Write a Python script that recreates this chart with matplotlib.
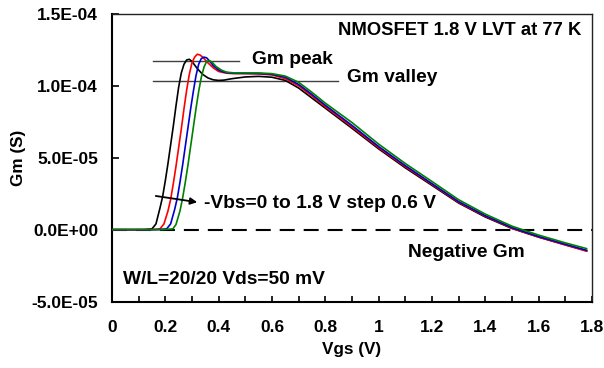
import matplotlib
matplotlib.use("Agg")
import matplotlib.pyplot as plt
from matplotlib.ticker import FixedLocator, MultipleLocator

plt.rcParams['font.family'] = ['Liberation Sans', 'DejaVu Sans']
plt.rcParams['font.weight'] = 'bold'

# Gm in units of 1e-5 S
v_black = [0, 0.12, 0.15, 0.165, 0.18, 0.19, 0.20, 0.21, 0.22, 0.23, 0.24, 0.25, 0.26, 0.27, 0.28, 0.29,
           0.30, 0.32, 0.34, 0.36, 0.38, 0.40, 0.42, 0.45, 0.5, 0.55, 0.6, 0.65, 0.7, 0.75, 0.8, 0.9, 1.0,
           1.1, 1.2, 1.3, 1.4, 1.5, 1.6, 1.7, 1.78]
gm_black = [0, 0, 0.05, 0.4, 1.5, 2.3, 3.4, 4.6, 5.9, 7.2, 8.6, 9.9, 10.9, 11.5, 11.8, 11.85,
            11.7, 11.2, 10.8, 10.55, 10.42, 10.38, 10.4, 10.5, 10.62, 10.66, 10.6, 10.38, 9.85, 9.15, 8.45, 7.05, 5.62,
            4.3, 3.08, 1.85, 0.88, 0.08, -0.52, -1.05, -1.47]

v_red = [0, 0.15, 0.18, 0.195, 0.21, 0.22, 0.23, 0.24, 0.25, 0.26, 0.27, 0.28, 0.29, 0.30, 0.31, 0.32,
         0.33, 0.34, 0.36, 0.38, 0.40, 0.43, 0.46, 0.5, 0.55, 0.6, 0.65, 0.7, 0.75, 0.8, 0.9, 1.0,
         1.1, 1.2, 1.3, 1.4, 1.5, 1.6, 1.7, 1.78]
gm_red = [0, 0, 0.05, 0.4, 1.3, 2.1, 3.2, 4.4, 5.7, 7.0, 8.4, 9.7, 10.8, 11.6, 12.0, 12.2,
          12.15, 12.0, 11.6, 11.25, 11.0, 10.88, 10.85, 10.85, 10.83, 10.76, 10.5, 10.0, 9.3, 8.55, 7.15, 5.7,
          4.38, 3.15, 1.9, 0.93, 0.1, -0.52, -1.07, -1.5]

v_blue = [0, 0.17, 0.205, 0.22, 0.235, 0.245, 0.255, 0.265, 0.275, 0.285, 0.295, 0.305, 0.315, 0.325,
          0.335, 0.345, 0.355, 0.365, 0.38, 0.40, 0.42, 0.45, 0.5, 0.55, 0.6, 0.65, 0.7, 0.75, 0.8, 0.9, 1.0,
          1.1, 1.2, 1.3, 1.4, 1.5, 1.6, 1.7, 1.78]
gm_blue = [0, 0, 0.05, 0.4, 1.4, 2.2, 3.3, 4.5, 5.8, 7.1, 8.4, 9.6, 10.7, 11.5,
           11.9, 12.0, 11.95, 11.75, 11.4, 11.1, 10.95, 10.88, 10.87, 10.86, 10.8, 10.6, 10.1, 9.4, 8.65, 7.25, 5.78,
           4.45, 3.2, 1.95, 0.97, 0.14, -0.48, -1.02, -1.44]

v_green = [0, 0.19, 0.228, 0.24, 0.255, 0.265, 0.275, 0.285, 0.295, 0.305, 0.315, 0.325, 0.335, 0.345,
           0.355, 0.365, 0.375, 0.39, 0.41, 0.43, 0.46, 0.5, 0.55, 0.6, 0.65, 0.7, 0.75, 0.8, 0.9, 1.0,
           1.1, 1.2, 1.3, 1.4, 1.5, 1.6, 1.7, 1.78]
gm_green = [0, 0, 0.05, 0.35, 1.3, 2.2, 3.3, 4.5, 5.8, 7.1, 8.4, 9.6, 10.6, 11.3,
            11.7, 11.75, 11.65, 11.35, 11.1, 10.95, 10.9, 10.9, 10.9, 10.85, 10.68, 10.25, 9.55, 8.8, 7.45, 5.95,
            4.6, 3.35, 2.08, 1.08, 0.24, -0.38, -0.92, -1.32]

series = [(v_black, gm_black, 'black'), (v_red, gm_red, '#ff0000'),
          (v_blue, gm_blue, '#0000cc'), (v_green, gm_green, '#008000')]

y_ticks = [-5e-5, 0, 5e-5, 1e-4, 1.5e-4]
y_tick_labels = ['-5.0E-05', '0.0E+00', '5.0E-05', '1.0E-04', '1.5E-04']
x_ticks = [0, 0.2, 0.4, 0.6, 0.8, 1.0, 1.2, 1.4, 1.6, 1.8]
x_tick_labels = ['0', '0.2', '0.4', '0.6', '0.8', '1', '1.2', '1.4', '1.6', '1.8']

peak_line_x = [0.154, 0.476]
peak_line_y = 1.171e-4
valley_line_x = [0.154, 0.847]
valley_line_y = 1.033e-4

fig = plt.figure(figsize=(6.04, 3.68), dpi=100)
ax = fig.add_axes([0.1854, 0.1807, 0.7946, 0.7813])

ax.plot([0, 1.8], [0, 0], color='black', lw=1.5, dashes=(7.2, 4.3), zorder=1)
for v, g, c in series:
    ax.plot(v, [x * 1e-5 for x in g], color=c, lw=1.2, zorder=3)

ax.plot(peak_line_x, [peak_line_y] * 2, color='#404040', lw=1.0, zorder=2)
ax.plot(valley_line_x, [valley_line_y] * 2, color='#404040', lw=1.0, zorder=2)

ax.set_xlim(0, 1.8)
ax.set_ylim(-5e-5, 1.5e-4)
ax.xaxis.set_major_locator(FixedLocator(x_ticks))
ax.set_xticklabels(x_tick_labels)
ax.xaxis.set_minor_locator(MultipleLocator(0.1))
ax.yaxis.set_major_locator(FixedLocator(y_ticks))
ax.set_yticklabels(y_tick_labels)

ax.tick_params(axis='both', which='both', direction='in', labelsize=12.5, width=1.2, length=4)
ax.tick_params(axis='x', which='major', pad=13)
ax.tick_params(axis='y', which='major', pad=10, length=5)
for lab in ax.get_xticklabels() + ax.get_yticklabels():
    lab.set_fontweight('bold')

for s in ['left', 'bottom']:
    ax.spines[s].set_linewidth(1.5)
    ax.spines[s].set_color('black')
for s in ['top', 'right']:
    ax.spines[s].set_linewidth(1.0)
    ax.spines[s].set_color('#222222')

ax.set_xlabel('Vgs (V)', fontsize=12.3, fontweight='bold', labelpad=5)
ax.set_ylabel('Gm (S)', fontsize=12.3, fontweight='bold', labelpad=4)

fs = 13.8
ax.text(0.977, 0.941, 'NMOSFET 1.8 V LVT at 77 K', transform=ax.transAxes, ha='right', va='center',
        fontsize=13.3, fontweight='bold')
ax.text(0.525, 1.185e-4, 'Gm peak', ha='left', va='center', fontsize=fs, fontweight='bold')
ax.text(0.881, 1.059e-4, 'Gm valley', ha='left', va='center', fontsize=fs, fontweight='bold')
ax.text(1.11, -1.6e-5, 'Negative Gm', ha='left', va='center', fontsize=fs, fontweight='bold')
ax.text(0.04, -3.48e-5, 'W/L=20/20 Vds=50 mV', ha='left', va='center', fontsize=fs, fontweight='bold')
ax.text(0.345, 1.81e-5, '-Vbs=0 to 1.8 V step 0.6 V', ha='left', va='center', fontsize=fs, fontweight='bold')
ax.annotate('', xy=(0.33, 1.88e-5), xytext=(0.154, 2.37e-5),
            arrowprops=dict(arrowstyle='-|>', color='black', lw=1.3, mutation_scale=10))

fig.savefig('out.png', dpi=100)
